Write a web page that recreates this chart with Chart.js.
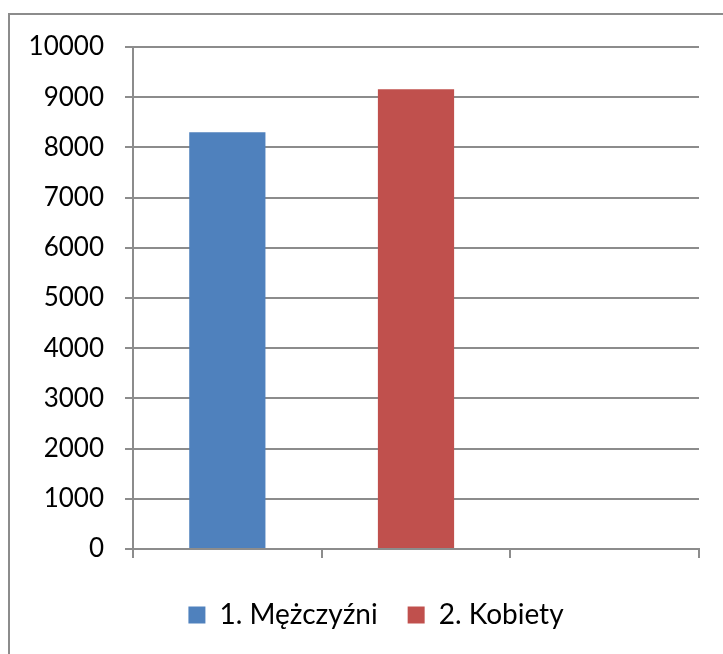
<!DOCTYPE html>
<html>
<head>
<meta charset="utf-8">
<script src="https://cdn.jsdelivr.net/npm/chart.js@4"></script>
<style>
  html, body { margin: 0; padding: 0; background: #fff; }
  #wrap { position: relative; width: 723px; height: 654px; }
</style>
</head>
<body>
<div id="wrap"><canvas id="c" width="723" height="654"></canvas></div>
<script>
const categories = ['1. Mężczyźni', '2. Kobiety', ''];
const values = [8300, 9160, null];
const barColors = ['#4F81BD', '#C0504D', '#9BBB59'];
const legendLabels = ['1. Mężczyźni', '2. Kobiety'];
const yTicks = [0, 1000, 2000, 3000, 4000, 5000, 6000, 7000, 8000, 9000, 10000];

const gridColor = '#8c8c8c';

const borderPlugin = {
  id: 'outerBorder',
  beforeLayout(chart) {
    const lg = chart.legend;
    if (lg && !lg._patchedFit) {
      const origFit = lg.fit;
      lg.fit = function () {
        origFit.call(this);
        this.height = 66;
      };
      lg._patchedFit = true;
    }
  },
  afterLayout(chart) {
    const lg = chart.legend;
    if (lg) {
      lg.left = 53;
      lg.width = lg.right - lg.left;
    }
  },
  afterDraw(chart) {
    const ctx = chart.ctx;
    ctx.save();
    ctx.strokeStyle = '#8c8c8c';
    ctx.lineWidth = 2;
    ctx.beginPath();
    ctx.moveTo(9, 660);
    ctx.lineTo(9, 14);
    ctx.lineTo(730, 14);
    ctx.stroke();
    ctx.restore();
  }
};

new Chart(document.getElementById('c'), {
  type: 'bar',
  data: {
    labels: categories,
    datasets: [{
      label: 'values',
      data: values,
      backgroundColor: barColors,
      borderWidth: 0,
      categoryPercentage: 1,
      barPercentage: 0.404
    }]
  },
  options: {
    responsive: false,
    animation: false,
    events: [],
    layout: { padding: { left: 0, right: 24, top: 47, bottom: 17 } },
    plugins: {
      tooltip: { enabled: false },
      legend: {
        position: 'bottom',
        labels: {
          font: { family: 'Lato', size: 28 },
          color: '#000',
          boxWidth: 17,
          boxHeight: 17,
          padding: 30,
          generateLabels() {
            return legendLabels.map((t, i) => ({
              text: t,
              fillStyle: barColors[i],
              strokeStyle: barColors[i],
              lineWidth: 0,
              hidden: false,
              index: i
            }));
          }
        }
      }
    },
    scales: {
      x: {
        offset: true,
        afterFit(scale) { scale.height = 22; },
        ticks: { display: false },
        grid: {
          offset: true,
          drawOnChartArea: false,
          drawTicks: true,
          tickLength: 9,
          color: gridColor,
          lineWidth: 2
        },
        border: { display: true, color: gridColor, width: 2 }
      },
      y: {
        min: 0,
        max: 10000,
        afterFit(scale) { scale.width = 133; },
        afterBuildTicks(scale) { scale.ticks = yTicks.map(v => ({ value: v })); },
        ticks: {
          font: { family: 'Lato', size: 26 },
          color: '#000',
          padding: 21,
          callback: (v) => String(v)
        },
        grid: {
          color: gridColor,
          lineWidth: 2,
          drawTicks: true,
          tickLength: 8
        },
        border: { display: true, color: gridColor, width: 2 }
      }
    }
  },
  plugins: [borderPlugin]
});
</script>
</body>
</html>
